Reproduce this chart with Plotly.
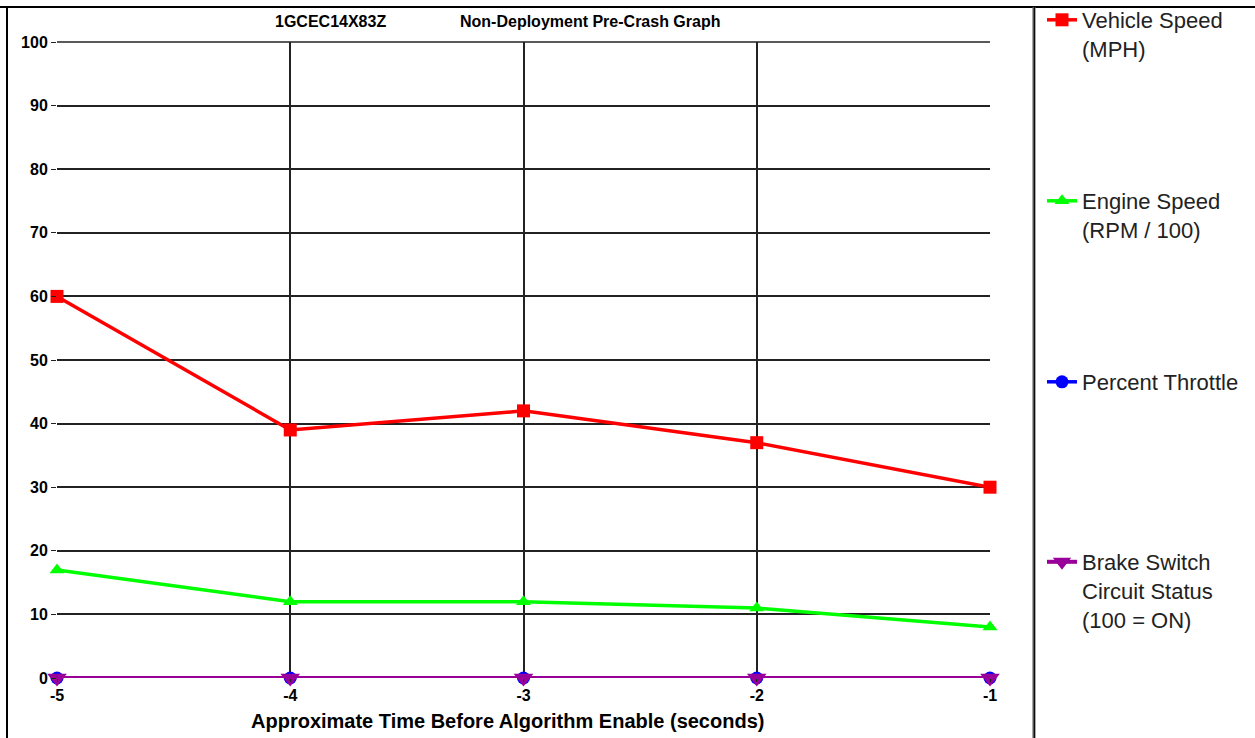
import plotly.graph_objects as go

time_s = [-5, -4, -3, -2, -1]
vehicle_speed = [60, 39, 42, 37, 30]
engine_speed = [17, 12, 12, 11, 8]
throttle = [0, 0, 0, 0, 0]
brake = [0, 0, 0, 0, 0]

W, H = 1255, 738
L, R, T, B = 57, 990, 42, 678  # plot area in pixels


def px(x):
    return (x - L) / (R - L)


def py(y):
    return (B - y) / (B - T)


fig = go.Figure()
fig.add_trace(go.Scatter(x=time_s, y=vehicle_speed, mode="lines+markers",
                         name="Vehicle Speed<br>(MPH)",
                         line=dict(color="#ff0000", width=3.5),
                         marker=dict(symbol="square", size=13, color="#ff0000"),
                         cliponaxis=False, legend="legend"))
fig.add_trace(go.Scatter(x=time_s, y=engine_speed, mode="lines+markers",
                         name="Engine Speed<br>(RPM / 100)",
                         line=dict(color="#00ff00", width=3.5),
                         marker=dict(symbol="triangle-up", size=13, color="#00ff00"),
                         cliponaxis=False, legend="legend2"))
fig.add_trace(go.Scatter(x=time_s, y=throttle, mode="lines+markers",
                         name="Percent Throttle",
                         line=dict(color="#0000ff", width=3.5),
                         marker=dict(symbol="circle", size=13, color="#0000ff"),
                         cliponaxis=False, legend="legend3"))
fig.add_trace(go.Scatter(x=time_s, y=brake, mode="lines+markers",
                         name="Brake Switch<br>Circuit Status<br>(100 = ON)",
                         line=dict(color="#990099", width=4),
                         marker=dict(symbol="triangle-down", size=17, color="#990099"),
                         cliponaxis=False, legend="legend4"))

legend_font = dict(family="Liberation Sans, Arial, sans-serif", size=22, color="#222222")
leg_x = px(1042)
common = dict(x=leg_x, xanchor="left", yanchor="top", font=legend_font,
              bgcolor="rgba(0,0,0,0)", valign="top", borderwidth=0,
              tracegroupgap=0)

axis_font = dict(family="Liberation Sans, Arial, sans-serif", size=16, color="#000000", weight="bold")
title_font = dict(family="Liberation Sans, Arial, sans-serif", size=16, color="#000000", weight="bold")

fig.update_layout(
    width=W, height=H,
    margin=dict(l=L, r=W - R, t=T, b=H - B, pad=0, autoexpand=False),
    paper_bgcolor="white", plot_bgcolor="white",
    showlegend=True,
    legend=dict(y=py(-1), **common),
    legend2=dict(y=py(180), **common),
    legend3=dict(y=py(361), **common),
    legend4=dict(y=py(541), **common),
    xaxis=dict(range=[-5, -1], tickvals=time_s, ticktext=[str(t) for t in time_s],
               showgrid=True, gridcolor="#222222", gridwidth=1.5,
               zeroline=False, showline=False, automargin=False,
               ticks="outside", ticklen=3, tickcolor="#222222",
               tickfont=axis_font),
    yaxis=dict(range=[0, 100], tickvals=list(range(0, 101, 10)),
               showgrid=True, gridcolor="#222222", gridwidth=1.5,
               zeroline=False, showline=False, automargin=False,
               ticks="outside", ticklen=5, tickcolor="#222222",
               tickfont=axis_font),
    shapes=[
        dict(type="line", xref="paper", yref="paper", x0=px(0), x1=px(W), y0=py(7), y1=py(7),
             line=dict(color="black", width=2)),
        dict(type="line", xref="paper", yref="paper", x0=px(7), x1=px(7), y0=py(7), y1=py(H),
             line=dict(color="black", width=2)),
        dict(type="line", xref="paper", yref="paper", x0=px(1034), x1=px(1034), y0=py(7), y1=py(H),
             line=dict(color="#555555", width=3)),
        dict(type="line", xref="paper", yref="paper", x0=px(1034.5), x1=px(1034.5), y0=py(7), y1=py(H),
             line=dict(color="#111111", width=1)),
        dict(type="line", xref="paper", yref="paper", x0=0, x1=1, y0=1, y1=1,
             line=dict(color="#222222", width=1.5)),
    ],
    annotations=[
        dict(text="1GCEC14X83Z", xref="paper", yref="paper", x=px(273), y=py(21),
             xanchor="left", yanchor="middle", showarrow=False, font=title_font),
        dict(text="Non-Deployment Pre-Crash Graph", xref="paper", yref="paper", x=px(458), y=py(21),
             xanchor="left", yanchor="middle", showarrow=False, font=title_font),
        dict(text="Approximate Time Before Algorithm Enable (seconds)", xref="paper", yref="paper",
             x=px(507), y=py(721), xanchor="center", yanchor="middle", showarrow=False,
             font=dict(family="Liberation Sans, Arial, sans-serif", size=20, color="#000000",
                       weight="bold")),
    ],
)

fig.write_html("out.html")
